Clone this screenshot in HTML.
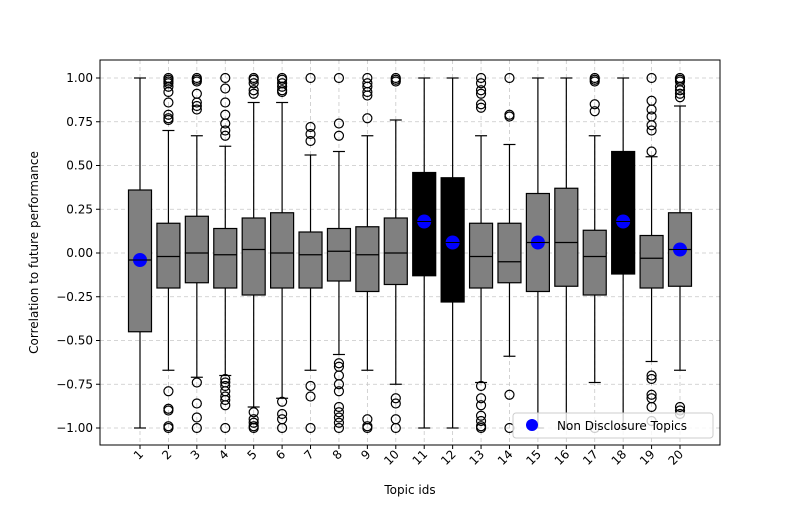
<!DOCTYPE html>
<html><head><meta charset="utf-8"><style>
body{margin:0;background:#fff;font-family:"Liberation Sans","DejaVu Sans",sans-serif}
svg text{font-family:"DejaVu Sans","Liberation Sans",sans-serif;font-size:12px}
</style></head><body>
<svg id="chart" width="800" height="500"></svg>
<script>
const topics=[1,2,3,4,5,6,7,8,9,10,11,12,13,14,15,16,17,18,19,20];
const q1s=[-0.45,-0.2,-0.17,-0.2,-0.24,-0.2,-0.2,-0.16,-0.22,-0.18,-0.13,-0.28,-0.2,-0.17,-0.22,-0.19,-0.24,-0.12,-0.2,-0.19];
const medians=[-0.04,-0.02,0,-0.01,0.02,0,-0.01,0.01,-0.01,0,0.18,0.06,-0.02,-0.05,0.06,0.06,-0.02,0.18,-0.03,0.02];
const q3s=[0.36,0.17,0.21,0.14,0.2,0.23,0.12,0.14,0.15,0.2,0.46,0.43,0.17,0.17,0.34,0.37,0.13,0.58,0.1,0.23];
const whiskLo=[-1,-0.67,-0.71,-0.7,-0.88,-0.83,-0.67,-0.58,-0.67,-0.75,-1,-1,-0.74,-0.59,-1,-1,-0.74,-1,-0.62,-0.67];
const whiskHi=[1,0.7,0.67,0.61,0.86,0.86,0.56,0.58,0.67,0.76,1,1,0.67,0.62,1,1,0.67,1,0.55,0.84];
const outliers=[[],
[1,0.99,0.98,0.97,0.95,0.92,0.86,0.79,0.77,0.76,-0.79,-0.89,-0.9,-0.99,-1],
[1,0.99,0.98,0.91,0.86,0.84,0.82,-0.74,-0.86,-0.94,-1],
[1,0.94,0.86,0.79,0.74,0.7,0.67,-0.72,-0.74,-0.76,-0.79,-0.82,-0.84,-0.87,-1],
[1,0.99,0.97,0.93,0.91,-0.91,-0.95,-0.97,-0.99,-1],
[1,0.99,0.97,0.95,0.93,0.92,-0.85,-0.92,-0.95,-1],
[1,0.72,0.68,0.64,-0.76,-0.82,-1],
[1,0.74,0.67,-0.63,-0.65,-0.7,-0.75,-0.79,-0.88,-0.91,-0.94,-0.97,-1],
[1,0.97,0.95,0.92,0.9,0.77,-0.95,-0.99,-1],
[1,0.99,0.98,-0.83,-0.86,-0.95,-1],
[],[],
[1,0.97,0.93,0.91,0.85,0.83,-0.76,-0.83,-0.87,-0.93,-0.96,-0.99,-1],
[1,0.79,0.78,-0.81,-1],
[],[],
[1,0.99,0.98,0.85,0.81,-1],
[],
[1,0.87,0.82,0.78,0.73,0.7,0.58,-0.7,-0.72,-0.81,-0.83,-0.88,-0.96],
[1,0.99,0.98,0.95,0.93,0.91,0.89,-0.88,-0.9,-0.92]];
const disclosure=[false,false,false,false,false,false,false,false,false,false,true,true,false,false,false,false,false,true,false,false];
const meanTopics=[1,11,12,15,18,20];
const meanValues=[-0.04,0.18,0.06,0.06,0.18,0.02];
const yTicks=[1,0.75,0.5,0.25,0,-0.25,-0.5,-0.75,-1];
const yTickLabels=["1.00","0.75","0.50","0.25","0.00","−0.25","−0.50","−0.75","−1.00"];

const NS="http://www.w3.org/2000/svg";
const svg=document.getElementById('chart');
function el(t,a,p){const e=document.createElementNS(NS,t);for(const k in a)e.setAttribute(k,a[k]);(p||svg).appendChild(e);return e;}
const L=100,R=720,T=60,B=445;
const y=v=>253-175*v;
const x=t=>140+(t-1)*540/19;
const bw=23;
for(let i=0;i<yTicks.length;i++){
 const g=el('line',{x1:L,x2:R,y1:y(yTicks[i]),y2:y(yTicks[i]),stroke:'#c8c8c8','stroke-dasharray':'4,3','stroke-width':0.8});
 
 el('line',{x1:L-4,x2:L,y1:y(yTicks[i]),y2:y(yTicks[i]),stroke:'#000'});
 const tx=el('text',{x:L-7,y:y(yTicks[i])+4,'text-anchor':'end'});tx.textContent=yTickLabels[i];
 
}
for(const t of topics){
 el('line',{x1:x(t),x2:x(t),y1:T,y2:B,stroke:'#c8c8c8','stroke-dasharray':'4,3','stroke-width':0.8});
 el('line',{x1:x(t),x2:x(t),y1:B,y2:B+4,stroke:'#000'});
 const tx=el('text',{x:0,y:0,'text-anchor':'end',transform:`translate(${x(t)+4},${B+10}) rotate(-45)`});tx.textContent=t;
 
}
topics.forEach((t,i)=>{
 const g=el('g',{});
 
 const cx=x(t);
 el('line',{x1:cx,x2:cx,y1:y(whiskHi[i]),y2:y(q3s[i]),stroke:'#000','stroke-width':1.2},g);
 el('line',{x1:cx,x2:cx,y1:y(q1s[i]),y2:y(whiskLo[i]),stroke:'#000','stroke-width':1.2},g);
 el('line',{x1:cx-6,x2:cx+6,y1:y(whiskHi[i]),y2:y(whiskHi[i]),stroke:'#000','stroke-width':1.2},g);
 el('line',{x1:cx-6,x2:cx+6,y1:y(whiskLo[i]),y2:y(whiskLo[i]),stroke:'#000','stroke-width':1.2},g);
 el('rect',{x:cx-bw/2,y:y(q3s[i]),width:bw,height:y(q1s[i])-y(q3s[i]),fill:disclosure[i]?'#000':'#808080',stroke:'#000','stroke-width':1.2},g);
 el('line',{x1:cx-bw/2,x2:cx+bw/2,y1:y(medians[i]),y2:y(medians[i]),stroke:'#000','stroke-width':1.2},g);
 for(const o of outliers[i]) el('circle',{cx:cx,cy:y(o),r:4.5,fill:'none',stroke:'#000','stroke-width':1.2},g);
});
meanTopics.forEach((t,i)=>{
 const c=el('circle',{cx:x(t),cy:y(meanValues[i]),r:7,fill:'#0000ff'});
 
 el('line',{x1:x(t)-bw/2,x2:x(t)+bw/2,y1:y(meanValues[i]),y2:y(meanValues[i]),stroke:'#000'});
});
el('rect',{x:L,y:T,width:R-L,height:B-T,fill:'none',stroke:'#000','stroke-width':1});
const yl=el('text',{x:0,y:0,'text-anchor':'middle',transform:`translate(38,${(T+B)/2}) rotate(-90)`,'font-size':'13'});yl.textContent='Correlation to future performance';

const xl=el('text',{x:(L+R)/2,y:494,'text-anchor':'middle'});xl.textContent='Topic ids';

const lg=el('g',{});

el('rect',{x:513,y:413,width:200,height:25,rx:3,fill:'rgba(255,255,255,0.8)',stroke:'#ccc'},lg);
el('circle',{cx:532,cy:425,r:6,fill:'#0000ff'},lg);
const lt=el('text',{x:557,y:430,'font-size':'13.5'},lg);lt.textContent='Non Disclosure Topics';
</script>
</body></html>
